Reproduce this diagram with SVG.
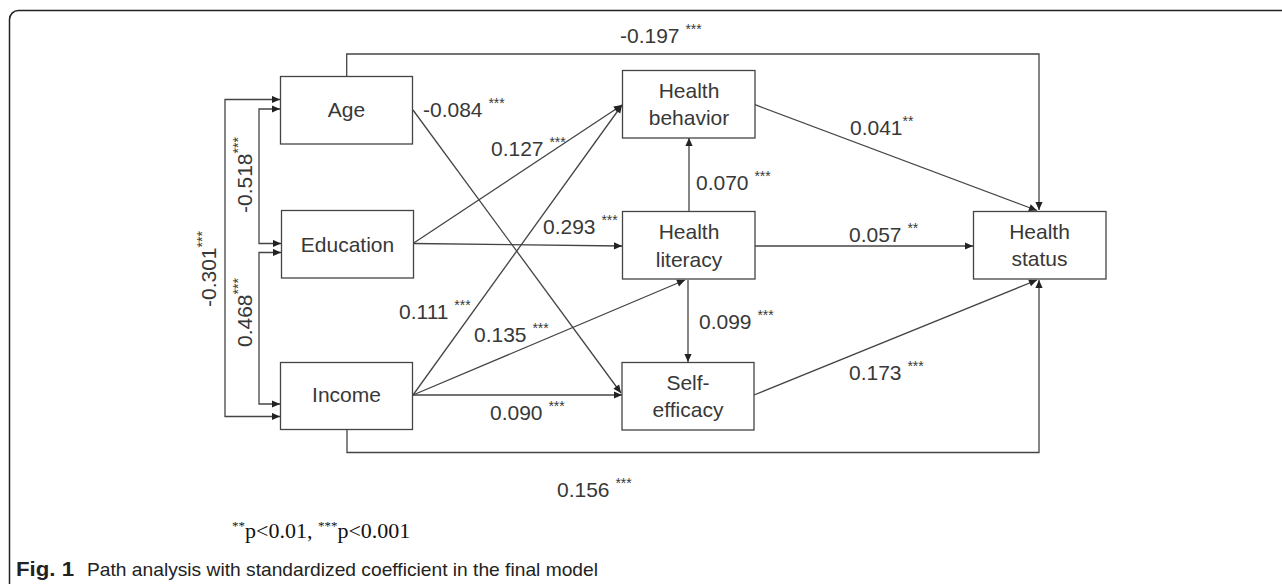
<svg xmlns="http://www.w3.org/2000/svg" width="1282" height="584" viewBox="0 0 1282 584">
<style>
.box{fill:#fff;stroke:#444;stroke-width:1.3}
.lbl{font-family:"Liberation Sans",Arial,sans-serif;font-size:21px;fill:#383838;text-anchor:middle}
.coef{font-family:"Liberation Sans",Arial,sans-serif;font-size:21px;fill:#383838}
.st{font-size:14px}
.cn{fill:none;stroke:#444;stroke-width:1.3}
</style>
<defs>
<marker id="ah" viewBox="0 0 10 10" refX="10" refY="5" markerWidth="9" markerHeight="8" markerUnits="userSpaceOnUse" orient="auto-start-reverse">
<path d="M0,0.5 L10,5 L0,9.5 z" fill="#222"/>
</marker>
</defs>
<rect width="1282" height="584" fill="#fff"/>
<rect x="9.5" y="10.5" width="1300" height="600" rx="9" fill="none" stroke="#222" stroke-width="1.5"/>

<g id="connectors">
<path class="cn" d="M346.7,76 V54 H1039 V210" marker-end="url(#ah)"/>
<path class="cn" d="M755,104.7 L1037,210.5" marker-end="url(#ah)"/>
<path class="cn" d="M413,243.5 L622,246" marker-end="url(#ah)"/>
<path class="cn" d="M413,243.5 L622,105" marker-end="url(#ah)"/>
<path class="cn" d="M413,395 L622,105" marker-end="url(#ah)"/>
<path class="cn" d="M413,395 L685,280" marker-end="url(#ah)"/>
<path class="cn" d="M413,395 L622,395" marker-end="url(#ah)"/>
<path class="cn" d="M413,110 L621,393" marker-end="url(#ah)"/>
<path class="cn" d="M689,211.7 V138" marker-end="url(#ah)"/>
<path class="cn" d="M755,246 L973,246" marker-end="url(#ah)"/>
<path class="cn" d="M688,280 V362" marker-end="url(#ah)"/>
<path class="cn" d="M754,395 L1037,280" marker-end="url(#ah)"/>
<path class="cn" d="M347,430 V452.5 H1039 V280" marker-end="url(#ah)"/>
<path class="cn" d="M280,99.5 H225 V416.5 H280" marker-start="url(#ah)" marker-end="url(#ah)"/>
<path class="cn" d="M280,109 H259 V243.5 H281" marker-start="url(#ah)" marker-end="url(#ah)"/>
<path class="cn" d="M281,252.5 H259 V404 H280" marker-start="url(#ah)" marker-end="url(#ah)"/>
</g>

<g id="node-age"><rect class="box" x="280.5" y="76.5" width="132" height="67.5"/><text class="lbl" x="346.5" y="117">Age</text></g>
<g id="node-education"><rect class="box" x="281.5" y="210.5" width="132" height="67.5"/><text class="lbl" x="347.5" y="251.5">Education</text></g>
<g id="node-income"><rect class="box" x="280.5" y="362.5" width="132" height="67"/><text class="lbl" x="346.5" y="402">Income</text></g>
<g id="node-behavior"><rect class="box" x="622.5" y="70.5" width="132.5" height="67.5"/><text class="lbl" x="689" y="98">Health</text><text class="lbl" x="689" y="125">behavior</text></g>
<g id="node-literacy"><rect class="box" x="622.5" y="211.5" width="132.5" height="67.5"/><text class="lbl" x="689" y="239">Health</text><text class="lbl" x="689" y="266.5">literacy</text></g>
<g id="node-selfefficacy"><rect class="box" x="622" y="362.5" width="132" height="67.5"/><text class="lbl" x="688" y="390">Self-</text><text class="lbl" x="688" y="417">efficacy</text></g>
<g id="node-status"><rect class="box" x="973.5" y="211.5" width="132.5" height="67.5"/><text class="lbl" x="1039.5" y="239">Health</text><text class="lbl" x="1039.5" y="266">status</text></g>

<g id="labels">
<text class="coef" x="620" y="43">-0.197 <tspan class="st" dy="-9">***</tspan></text>
<text class="coef" x="423" y="117">-0.084 <tspan class="st" dy="-9">***</tspan></text>
<text class="coef" x="491" y="156">0.127 <tspan class="st" dy="-9">***</tspan></text>
<text class="coef" x="543" y="234">0.293 <tspan class="st" dy="-9">***</tspan></text>
<text class="coef" x="696" y="190">0.070 <tspan class="st" dy="-9">***</tspan></text>
<text class="coef" x="850" y="135">0.041<tspan class="st" dy="-9">**</tspan></text>
<text class="coef" x="849" y="241.5">0.057 <tspan class="st" dy="-9">**</tspan></text>
<text class="coef" x="699" y="329">0.099 <tspan class="st" dy="-9">***</tspan></text>
<text class="coef" x="849" y="380">0.173 <tspan class="st" dy="-9">***</tspan></text>
<text class="coef" x="399" y="319">0.111 <tspan class="st" dy="-9">***</tspan></text>
<text class="coef" x="474" y="341.5">0.135 <tspan class="st" dy="-9">***</tspan></text>
<text class="coef" x="490" y="420">0.090 <tspan class="st" dy="-9">***</tspan></text>
<text class="coef" x="557" y="497">0.156 <tspan class="st" dy="-9">***</tspan></text>
<text class="coef" transform="translate(216,307) rotate(-90)">-0.301<tspan class="st" dy="-9">***</tspan></text>
<text class="coef" transform="translate(252,213) rotate(-90)">-0.518<tspan class="st" dy="-9">***</tspan></text>
<text class="coef" transform="translate(252,347) rotate(-90)">0.468<tspan class="st" dy="-9">***</tspan></text>
</g>

<g id="caption">
<text x="232" y="538" font-family="'Liberation Serif','Times New Roman',serif" font-size="22" fill="#111"><tspan font-size="13" dy="-8">**</tspan><tspan dy="8">p&lt;0.01, </tspan><tspan font-size="13" dy="-8">***</tspan><tspan dy="8">p&lt;0.001</tspan></text>
<text x="16" y="576" font-family="'Liberation Sans',Arial,sans-serif" font-size="19" fill="#222"><tspan font-weight="bold" font-size="20" textLength="58" lengthAdjust="spacingAndGlyphs">Fig. 1</tspan><tspan x="87" textLength="511" lengthAdjust="spacingAndGlyphs">Path analysis with standardized coefficient in the final model</tspan></text>
</g>
</svg>
